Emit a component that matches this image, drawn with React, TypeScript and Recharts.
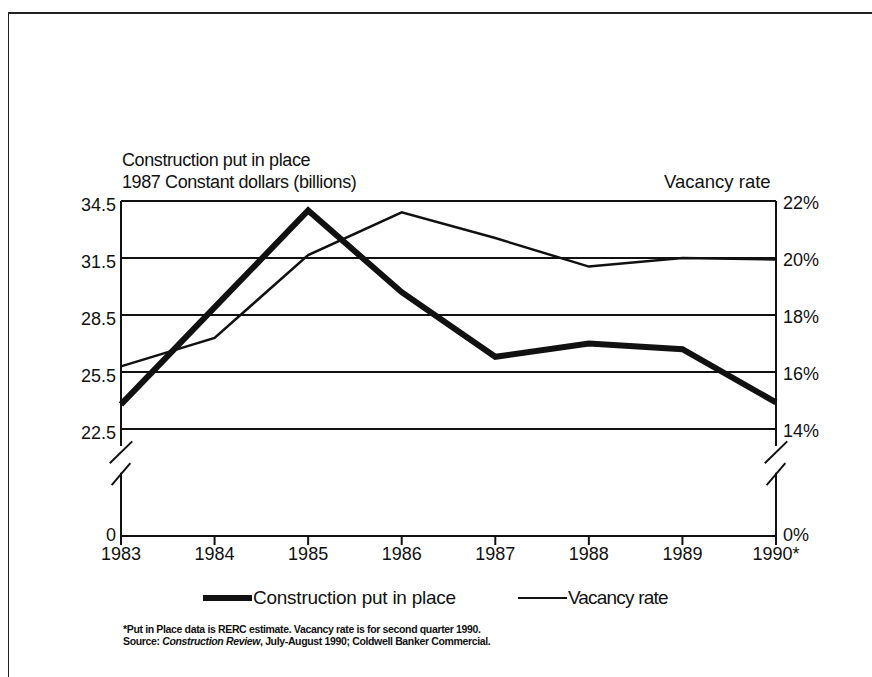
import React from 'react';
import { LineChart, Line, XAxis, YAxis, CartesianGrid, ReferenceLine } from 'recharts';

const YEARS = [1983, 1984, 1985, 1986, 1987, 1988, 1989, 1990];
// constant 1987 dollars, billions
const CONSTRUCTION = [23.8, 28.9, 34.0, 29.7, 26.3, 27.0, 26.7, 23.9];
// office vacancy rate, %
const VACANCY = [16.2, 17.2, 20.1, 21.6, 20.7, 19.7, 20.0, 19.95];

const LEFT_TICKS = [22.5, 25.5, 28.5, 31.5, 34.5];
const RIGHT_TICKS = [14, 16, 18, 20, 22];

// the axes are broken below the lowest grid line; the zero tick sits at these values
const LEFT_ZERO = 16.87;
const RIGHT_ZERO = 10.25;

const FONT = '"Liberation Sans", Arial, sans-serif';

const data = YEARS.map((year, i) => ({
  year,
  construction: CONSTRUCTION[i],
  vacancy: VACANCY[i],
}));

// axis segments + "//" break marks, in data units of the left axis
const breakMarks = (x: number) => [
  [{ x, y: 34.5 }, { x, y: 21.6 }],
  [{ x, y: 20.2 }, { x, y: LEFT_ZERO }],
  [{ x: x - 0.12, y: 20.7 }, { x: x + 0.12, y: 21.85 }],
  [{ x: x - 0.1, y: 19.55 }, { x: x + 0.1, y: 20.7 }],
];

const LeftTick = ({ x, y, payload }: any) => {
  const zero = payload.value === LEFT_ZERO;
  return (
    <text x={x} y={y + (zero ? -1 : 4)} dy="0.355em" textAnchor="end" fill="#111" fontSize={18} fontFamily={FONT}>
      {zero ? '0' : payload.value.toFixed(1)}
    </text>
  );
};

const RightTick = ({ x, y, payload }: any) => {
  const zero = payload.value === RIGHT_ZERO;
  return (
    <text x={x} y={y + (zero ? -1 : 2)} dy="0.355em" textAnchor="start" fill="#111" fontSize={18} fontFamily={FONT}>
      {zero ? '0%' : `${payload.value}%`}
    </text>
  );
};

export default function App() {
  return (
    <div style={{ position: 'absolute', left: 0, top: 0, width: 872, height: 677, background: '#fff', fontFamily: FONT, color: '#111' }}>
      <div style={{ position: 'absolute', left: 8, top: 12, width: 864, height: 665, borderLeft: '1.5px solid #222', borderTop: '2px solid #222' }} />

      <div style={{ position: 'absolute', left: 122, top: 149, fontSize: 18, lineHeight: '22px', letterSpacing: -0.4 }}>
        Construction put in place
        <br />
        1987 Constant dollars (billions)
      </div>
      <div style={{ position: 'absolute', left: 664, top: 171, fontSize: 18.5, lineHeight: '22px' }}>Vacancy rate</div>

      <LineChart
        width={872}
        height={677}
        data={data}
        margin={{ top: 201, right: 36, bottom: 111, left: 61 }}
        style={{ position: 'absolute', left: 0, top: 0 }}
      >
        <CartesianGrid yAxisId="left" vertical={false} stroke="#111" strokeWidth={2} />
        <XAxis
          dataKey="year"
          type="number"
          domain={[1983, 1990]}
          ticks={YEARS}
          height={30}
          tickFormatter={(y: number) => (y === 1990 ? '1990*' : String(y))}
          tick={{ fill: '#111', fontSize: 18, fontFamily: FONT }}
          axisLine={{ stroke: '#111', strokeWidth: 2 }}
          tickLine={{ stroke: '#111', strokeWidth: 2 }}
          tickSize={9}
          tickMargin={2}
        />
        <YAxis
          yAxisId="left"
          width={60}
          domain={[LEFT_ZERO, 34.5]}
          ticks={[LEFT_ZERO, ...LEFT_TICKS]}
          tick={<LeftTick />}
          axisLine={false}
          tickLine={false}
          tickSize={0}
          tickMargin={5}
        />
        <YAxis
          yAxisId="right"
          orientation="right"
          width={60}
          domain={[RIGHT_ZERO, 22]}
          ticks={[RIGHT_ZERO, ...RIGHT_TICKS]}
          tick={<RightTick />}
          axisLine={false}
          tickLine={false}
          tickSize={0}
          tickMargin={7}
        />
        {[...breakMarks(1983), ...breakMarks(1990)].map((seg, i) => (
          <ReferenceLine
            key={i}
            yAxisId="left"
            segment={seg}
            stroke="#111"
            strokeWidth={2}
            ifOverflow="visible"
          />
        ))}
        <Line
          yAxisId="right"
          dataKey="vacancy"
          type="linear"
          stroke="#111"
          strokeWidth={2.5}
          dot={false}
          isAnimationActive={false}
        />
        <Line
          yAxisId="left"
          dataKey="construction"
          type="linear"
          stroke="#111"
          strokeWidth={6}
          strokeLinejoin="miter"
          dot={false}
          isAnimationActive={false}
        />
      </LineChart>

      <div style={{ position: 'absolute', left: 203, top: 586, display: 'flex', alignItems: 'center', fontSize: 19, lineHeight: '24px' }}>
        <span style={{ display: 'inline-block', width: 49, height: 6, background: '#111' }} />
        <span style={{ marginLeft: 1, marginRight: 62, letterSpacing: -0.25 }}>Construction put in place</span>
        <span style={{ display: 'inline-block', width: 49, height: 2, background: '#111' }} />
        <span style={{ marginLeft: 1, letterSpacing: -0.8 }}>Vacancy rate</span>
      </div>

      <div style={{ position: 'absolute', left: 123, top: 623, fontSize: 10.5, lineHeight: '12px', fontWeight: 700, letterSpacing: -0.35 }}>
        *Put in Place data is RERC estimate. Vacancy rate is for second quarter 1990.
        <br />
        Source: <i>Construction Review</i>, July-August 1990; Coldwell Banker Commercial.
      </div>
    </div>
  );
}
